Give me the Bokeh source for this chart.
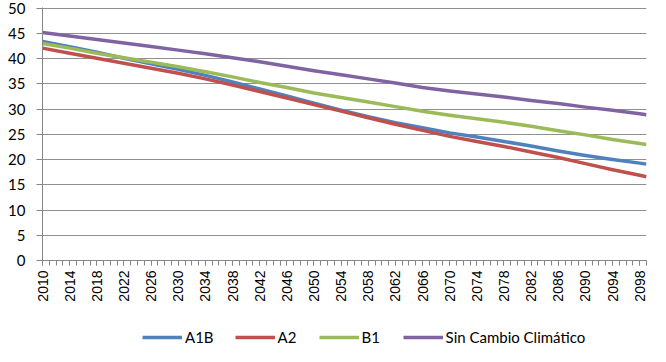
import math
from bokeh.plotting import figure
from bokeh.layouts import column
from bokeh.models import Range1d, FixedTicker, Legend, LegendItem
from bokeh.embed import file_html
from bokeh.resources import INLINE

# ---- data ----
years = [2010, 2014, 2018, 2022, 2026, 2030, 2034, 2038, 2042, 2046, 2050, 2054,
         2058, 2062, 2066, 2070, 2074, 2078, 2082, 2086, 2090, 2094, 2098, 2099]

a1b = [43.4, 42.4, 41.3, 40.1, 39.0, 37.9, 36.7, 35.4, 34.0, 32.6, 31.2, 29.8,
       28.5, 27.3, 26.3, 25.3, 24.5, 23.6, 22.7, 21.7, 20.8, 20.0, 19.3, 19.1]
a2 = [42.1, 41.1, 40.1, 39.1, 38.1, 37.1, 36.0, 34.8, 33.5, 32.2, 30.9, 29.6,
      28.3, 27.0, 25.8, 24.6, 23.6, 22.6, 21.5, 20.4, 19.2, 18.0, 16.9, 16.6]
b1 = [43.0, 42.1, 41.1, 40.2, 39.3, 38.4, 37.4, 36.4, 35.3, 34.3, 33.2, 32.3,
      31.4, 30.5, 29.6, 28.8, 28.1, 27.4, 26.6, 25.7, 24.9, 24.0, 23.2, 23.0]
sin_cambio = [45.2, 44.5, 43.8, 43.1, 42.4, 41.7, 41.0, 40.2, 39.4, 38.5, 37.6, 36.8,
              36.0, 35.2, 34.3, 33.6, 33.0, 32.4, 31.7, 31.1, 30.4, 29.8, 29.1, 28.9]

series_names = ["A1B", "A2", "B1", "Sin Cambio Climático"]
series_colors = ["#4F81BD", "#C0504D", "#9BBB59", "#8064A2"]

x_label_years = list(range(2010, 2099, 4))
x_minor_years = list(range(2010, 2100))
y_ticks = [0, 5, 10, 15, 20, 25, 30, 35, 40, 45, 50]

LINE_W = 3.5
all_series = [a1b, a2, b1, sin_cambio]

# ---- main chart ----
p = figure(width=650, height=306, output_backend="svg", toolbar_location=None,
           x_range=Range1d(2010, 2099), y_range=Range1d(0, 50.15),
           min_border_left=42, min_border_right=4, min_border_top=7,
           min_border_bottom=46)
p.outline_line_color = None
p.background_fill_color = "white"
p.border_fill_color = "white"

grid_color = "#8f8f8f"
axis_color = "#868686"

p.xgrid.visible = False
p.ygrid.ticker = FixedTicker(ticks=y_ticks)
p.ygrid.grid_line_color = grid_color
p.ygrid.grid_line_width = 1

p.yaxis.ticker = FixedTicker(ticks=y_ticks)
p.yaxis.axis_line_color = axis_color
p.yaxis.major_tick_line_color = axis_color
p.yaxis.major_tick_out = 6
p.yaxis.major_tick_in = 0
p.yaxis.minor_tick_line_color = None
p.yaxis.major_label_standoff = 11
p.yaxis.major_label_text_font = "Lato"
p.yaxis.major_label_text_font_size = "15px"
p.yaxis.major_label_text_color = "#000000"

p.xaxis.ticker = FixedTicker(ticks=x_label_years, minor_ticks=x_minor_years)
p.xaxis.axis_line_color = axis_color
p.xaxis.major_tick_line_color = axis_color
p.xaxis.minor_tick_line_color = axis_color
p.xaxis.major_tick_out = 5
p.xaxis.major_tick_in = 0
p.xaxis.minor_tick_out = 5
p.xaxis.minor_tick_in = 0
p.xaxis.major_label_orientation = math.pi / 2
p.xaxis.major_label_standoff = 5
p.xaxis.major_label_text_font = "Liberation Sans"
p.xaxis.major_label_text_font_size = "14px"
p.xaxis.major_label_text_color = "#000000"

for vals, col in zip(all_series, series_colors):
    p.line(years, vals, line_color=col, line_width=LINE_W, line_join="round")

# ---- legend strip below the chart (same series, drawn outside its view) ----
lg = figure(width=650, height=40, output_backend="svg", toolbar_location=None,
            x_range=Range1d(0, 1), y_range=Range1d(0, 1),
            min_border_left=0, min_border_right=0, min_border_top=0,
            min_border_bottom=0)
lg.axis.visible = False
lg.grid.visible = False
lg.outline_line_color = None
lg.background_fill_color = "white"
lg.border_fill_color = "white"

legend_renderers = [lg.line(years, vals, line_color=col, line_width=LINE_W)
                    for vals, col in zip(all_series, series_colors)]

legend = Legend(items=[LegendItem(label=n, renderers=[r])
                       for n, r in zip(series_names, legend_renderers)],
                orientation="horizontal", location=(100, 0))
legend.glyph_width = 40
legend.glyph_height = 16
legend.label_height = 16
legend.label_standoff = 3
legend.spacing = 21
legend.padding = 0
legend.margin = 0
legend.border_line_color = None
legend.background_fill_alpha = 0
legend.label_text_font = "Lato"
legend.label_text_font_size = "15px"
legend.label_text_color = "#000000"
lg.add_layout(legend, "center")

layout = column(p, lg, spacing=0)

open("out.html", "w").write(file_html(layout, INLINE))
